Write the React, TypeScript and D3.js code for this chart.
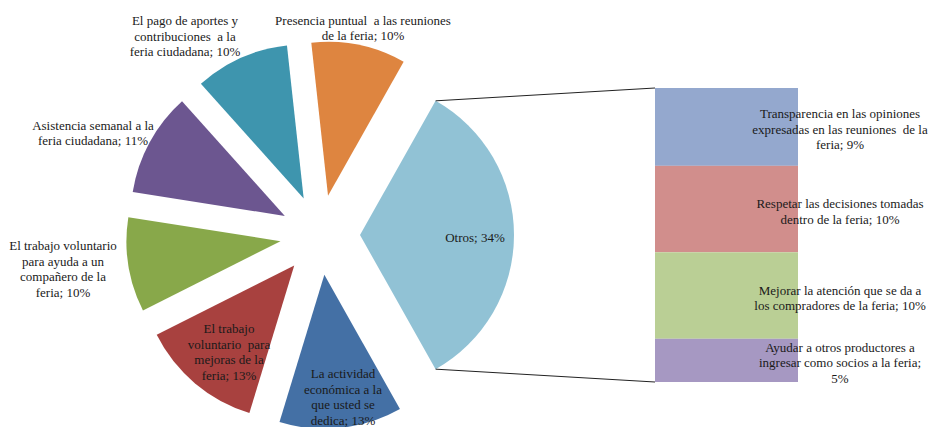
import React from "react";
import * as d3 from "d3";

// pie slices, clockwise starting right after "Otros"
const pieNames = [
  "La actividad económica",
  "Trabajo voluntario mejoras",
  "Trabajo voluntario ayuda",
  "Asistencia semanal",
  "Pago de aportes",
  "Presencia puntual",
  "Otros",
];
const pieValues = [13, 13, 10, 11, 10, 10, 34];
const pieColors = ["#4470A5", "#A8413F", "#88A84A", "#6C5690", "#3E95AE", "#DE8540", "#91C2D5"];
const pieLabelLines = [
  ["La actividad", "económica a la", "que usted se", "dedica"],
  ["El trabajo", "voluntario  para", "mejoras de la", "feria"],
  ["El trabajo voluntario", "para ayuda a un", "compañero de la", "feria"],
  ["Asistencia semanal a la", "feria ciudadana"],
  ["El pago de aportes y", "contribuciones  a la", "feria ciudadana"],
  ["Presencia puntual  a las reuniones", "de la feria"],
  ["Otros"],
];

// stacked bar, top to bottom
const barValues = [9, 10, 10, 5];
const barColors = ["#94A8CE", "#D18E8C", "#BACF95", "#A698C2"];
const barLabelLines = [
  ["Transparencia en las opiniones", "expresadas en las reuniones  de la", "feria"],
  ["Respetar las decisiones tomadas", "dentro de la feria"],
  ["Mejorar la atención que se da a", "los compradores de la feria"],
  ["Ayudar a otros productores a", "ingresar como socios a la feria;", ""],
];

// label centres (layout only)
const pieLabelPos: [number, number][] = [
  [343, 397],
  [229, 352],
  [63, 269],
  [93, 133],
  [185, 36],
  [363, 28],
  [475, 237],
];
const barLabelX = 840;

const W = 931;
const H = 427;
const cx = 320;
const cy = 235;
const radius = 154;
const explode = 40;
const lineH = 15.5;
const font = "'Times New Roman', 'Liberation Serif', 'DejaVu Serif', serif";

export default function App() {
  const total = d3.sum(pieValues);
  const otrosIdx = pieNames.indexOf("Otros");
  const before = d3.sum(pieValues.slice(0, otrosIdx)) + pieValues[otrosIdx] / 2;
  const start = Math.PI / 2 - (before / total) * 2 * Math.PI;

  const pie = d3
    .pie<number>()
    .sort(null)
    .startAngle(start)
    .endAngle(start + 2 * Math.PI);
  const arcs = pie(pieValues);
  const arcGen = d3.arc<d3.PieArcDatum<number>>().innerRadius(0).outerRadius(radius);

  const offset = (a: d3.PieArcDatum<number>) => {
    const mid = (a.startAngle + a.endAngle) / 2;
    return [explode * Math.sin(mid), -explode * Math.cos(mid)];
  };

  const otros = arcs[otrosIdx];
  const [ox, oy] = offset(otros);
  const pt = (ang: number) => [cx + ox + radius * Math.sin(ang), cy + oy - radius * Math.cos(ang)];
  const otrosTop = pt(otros.startAngle);
  const otrosBottom = pt(otros.endAngle);

  const barX0 = 655;
  const barX1 = 798;
  const y = d3.scaleLinear().domain([0, d3.sum(barValues)]).range([88, 382]);
  const cum = d3.cumsum(barValues);

  const textLines = (lines: string[], x: number, yc: number, key: string) => {
    const y0 = yc - ((lines.length - 1) * lineH) / 2;
    return (
      <text key={key} x={x} textAnchor="middle" style={{ fontFamily: font, fontSize: "13px" }} fill="#1a1a1a">
        {lines.map((l, i) => (
          <tspan key={i} x={x} y={y0 + i * lineH} dy="0.35em" style={{ whiteSpace: "pre" }}>
            {l}
          </tspan>
        ))}
      </text>
    );
  };

  return (
    <svg width={W} height={H} style={{ position: "absolute", left: 0, top: 0, background: "#fff" }}>
      <g transform={`translate(${cx},${cy})`}>
        {arcs.map((a, i) => {
          const [dx, dy] = offset(a);
          return <path key={i} d={arcGen(a) || ""} transform={`translate(${dx},${dy})`} fill={pieColors[i]} />;
        })}
      </g>
      <line x1={otrosTop[0]} y1={otrosTop[1]} x2={barX0} y2={y(0)} stroke="#222" strokeWidth={1} />
      <line x1={otrosBottom[0]} y1={otrosBottom[1]} x2={barX0} y2={y(d3.sum(barValues))} stroke="#222" strokeWidth={1} />
      {barValues.map((v, i) => (
        <rect key={i} x={barX0} y={y(cum[i] - v)} width={barX1 - barX0} height={y(cum[i]) - y(cum[i] - v)} fill={barColors[i]} />
      ))}
      {pieLabelPos.map((p, i) => {
        const lines = [...pieLabelLines[i]];
        lines[lines.length - 1] += `; ${pieValues[i]}%`;
        return textLines(lines, p[0], p[1], `p${i}`);
      })}
      {barValues.map((v, i) => {
        const lines = [...barLabelLines[i]];
        if (lines[lines.length - 1] === "") lines[lines.length - 1] = `${v}%`;
        else lines[lines.length - 1] += `; ${v}%`;
        const yc = (y(cum[i] - v) + y(cum[i])) / 2 + 2.5;
        return textLines(lines, barLabelX, yc, `b${i}`);
      })}
    </svg>
  );
}
